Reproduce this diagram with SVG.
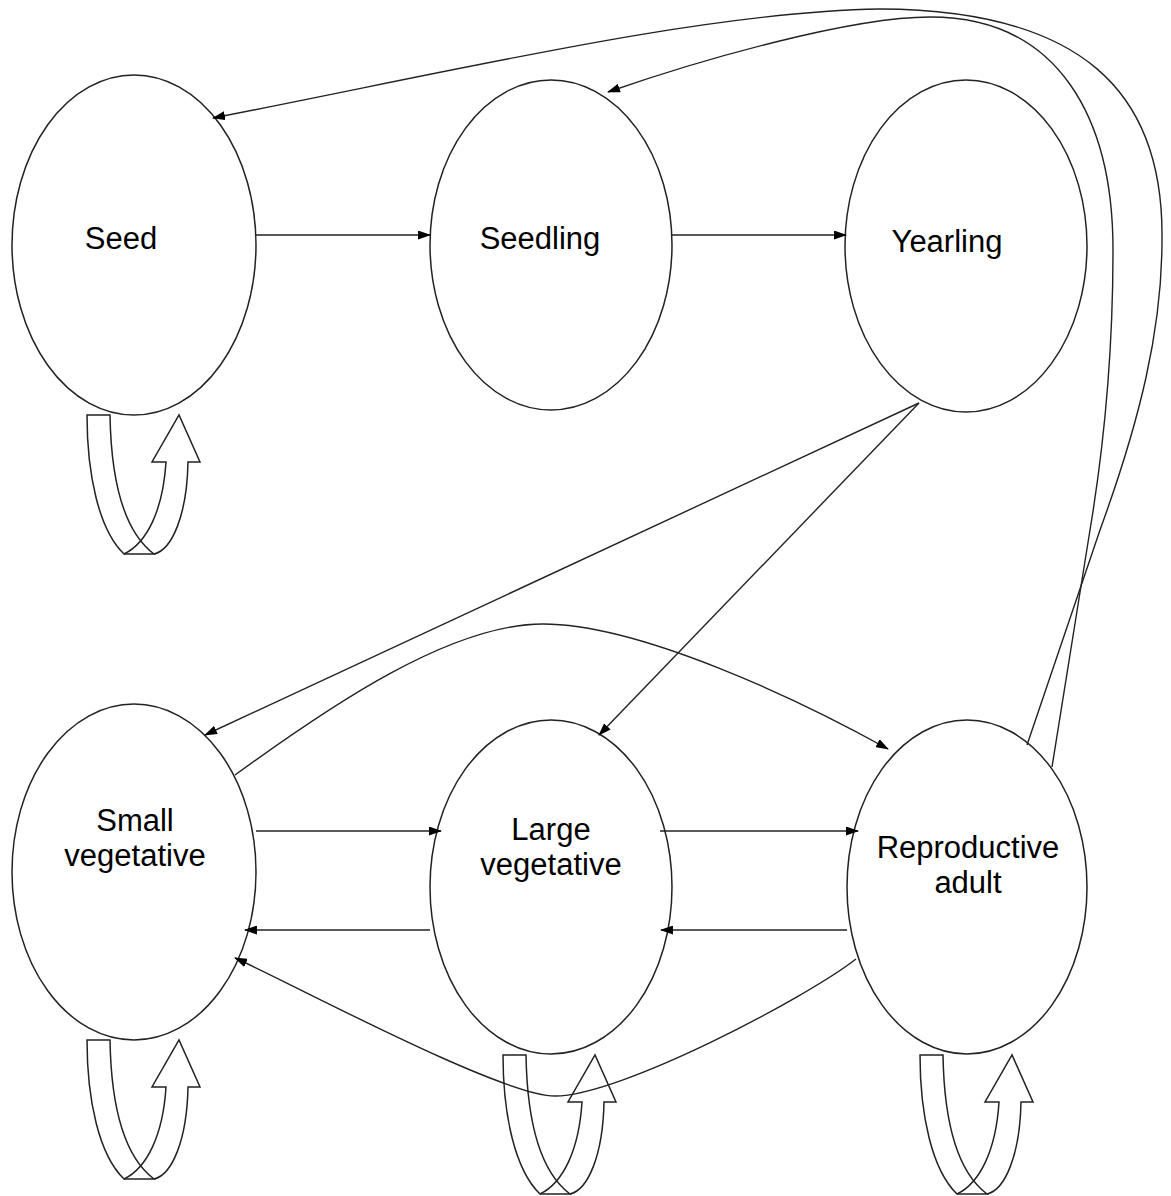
<svg xmlns="http://www.w3.org/2000/svg" width="1171" height="1196" viewBox="0 0 1171 1196">
<style>
.node ellipse{fill:#fff;stroke:#222;stroke-width:1.5}
.lbl{font-family:"Liberation Sans",Arial,sans-serif;font-size:31px;fill:#000;text-anchor:middle}
.conn path,.conn line{fill:none;stroke:#222;stroke-width:1.4}
</style>
<defs>
<marker id="ah" viewBox="0 0 13 9" markerWidth="13" markerHeight="9" refX="12" refY="4.5" orient="auto" markerUnits="userSpaceOnUse">
<path d="M0,0 L13,4.5 L0,9 Z" fill="#000"/>
</marker>
<g id="loopShape" fill="none" stroke="#222" stroke-width="1.5">
<path d="M0,0 H23 C24,60 35,115 67,139 H37 C12,115 0,60 0,0 Z"/>
<path d="M37,139 C60,128 76,95 79,47 H65 L92,0 L113,47 H101 C100,100 85,135 67,139"/>
</g>
</defs>
<rect width="1171" height="1196" fill="#fff"/>
<g id="node-seed" class="node">
<ellipse cx="134" cy="245" rx="122" ry="170"/>
<text class="lbl" x="121" y="249">Seed</text>
</g>
<g id="node-seedling" class="node">
<ellipse cx="551" cy="245" rx="121" ry="165"/>
<text class="lbl" x="540" y="249">Seedling</text>
</g>
<g id="node-yearling" class="node">
<ellipse cx="966" cy="246" rx="121" ry="166"/>
<text class="lbl" x="947" y="252">Yearling</text>
</g>
<g id="node-small" class="node">
<ellipse cx="134" cy="872" rx="122" ry="168"/>
<text class="lbl" x="135" y="831">Small</text>
<text class="lbl" x="135" y="866">vegetative</text>
</g>
<g id="node-large" class="node">
<ellipse cx="551" cy="887" rx="121" ry="167"/>
<text class="lbl" x="551" y="840">Large</text>
<text class="lbl" x="551" y="875">vegetative</text>
</g>
<g id="node-repro" class="node">
<ellipse cx="967" cy="887" rx="120" ry="167"/>
<text class="lbl" x="968" y="858">Reproductive</text>
<text class="lbl" x="968" y="893">adult</text>
</g>
<g id="self-loops">
<use href="#loopShape" transform="translate(87,415)"/>
<use href="#loopShape" transform="translate(87,1040)"/>
<use href="#loopShape" transform="translate(503,1055)"/>
<use href="#loopShape" transform="translate(920,1055)"/>
</g>
<g id="connectors" class="conn">
<line x1="256" y1="235" x2="430" y2="235" marker-end="url(#ah)"/>
<line x1="672" y1="235" x2="846" y2="235" marker-end="url(#ah)"/>
<line x1="256" y1="831" x2="441" y2="831" marker-end="url(#ah)"/>
<line x1="660" y1="831" x2="858" y2="831" marker-end="url(#ah)"/>
<line x1="430" y1="930" x2="245" y2="930" marker-end="url(#ah)"/>
<line x1="847" y1="930" x2="661" y2="930" marker-end="url(#ah)"/>
<line x1="919" y1="403" x2="205" y2="735" marker-end="url(#ah)"/>
<line x1="919" y1="403" x2="599" y2="735" marker-end="url(#ah)"/>
<path d="M235,775 C330,706 450,624 543,624 C640,624 800,700 888,749" marker-end="url(#ah)"/>
<path d="M856,959 C806,998 620,1096 555,1096 C500,1096 285,980 235,958" marker-end="url(#ah)"/>
<path d="M1027,745 L1100,530 C1140,420 1162,330 1162,240 C1164,90 1080,10 880,9 C700,12 450,72 213,118" marker-end="url(#ah)"/>
<path d="M1052,767 L1090,530 C1105,440 1113,350 1113,250 C1113,120 1060,17 930,17 C850,17 700,60 608,92" marker-end="url(#ah)"/>
</g>
</svg>
